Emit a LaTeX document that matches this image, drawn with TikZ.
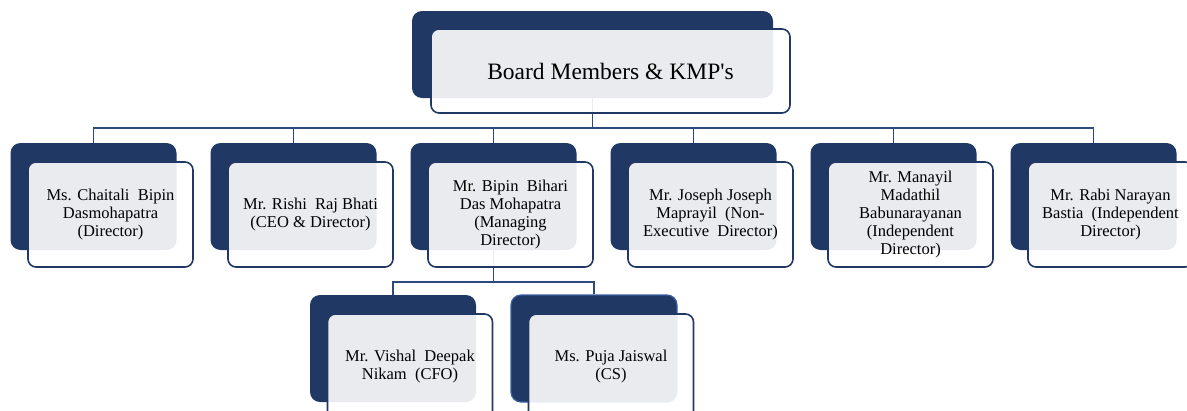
\documentclass[tikz,border=0pt]{standalone}
\usepackage{fontspec}
\setmainfont{Liberation Serif}[Ligatures=TeXOff]
\usetikzlibrary{backgrounds}
\definecolor{navy}{HTML}{203864}
\definecolor{linkblue}{HTML}{2C4A7E}
\definecolor{selblue}{HTML}{3A5EA0}

\begin{document}
\begin{tikzpicture}[x=1pt, y=-1pt,
		back/.style={fill=navy, rounded corners=10pt, minimum width=166pt, minimum height=107pt, inner sep=0pt},
		front/.style={draw=navy, line width=1.6pt, fill=white, fill opacity=.9, text opacity=1, rounded corners=8pt,
			minimum width=165pt, minimum height=105pt, inner sep=0pt, align=center, font=\fontsize{16.5}{17.8}\selectfont},
		link/.style={draw=linkblue, line width=1.6pt}]
				\useasboundingbox (0,0) rectangle (1187,410);
				\clip (0,0) rectangle (1187,410);
				% top box
				\node[back, minimum width=361pt, minimum height=87pt] (boardbk) at (592.5,54.5) {};
				\node[front, minimum width=359pt, minimum height=84pt, font=\fontsize{23.5}{26}\selectfont] (board) at ([shift={(18,16.5)}] boardbk) {Board Members \& KMP's};
				% board members
				\foreach \x/\name/\txt in {93.5/chaitali/{Ms. Chaitali\ \ Bipin\\Dasmohapatra\\(Director)},
						293.5/rishi/{Mr. Rishi\ \ Raj Bhati\\(CEO \& Director)},
						493.5/bipin/{Mr. Bipin\ \ Bihari\\Das Mohapatra\\(Managing\\Director)},
						693.5/joseph/{Mr. Joseph Joseph\\Maprayil\ \ (Non-\\Executive\ \ Director)},
						893.5/manayil/{Mr. Manayil\\Madathil\\Babunarayanan\\(Independent\\Director)},
						1093.5/rabi/{Mr. Rabi Narayan\\Bastia\ \ (Independent\\Director)}} {
					\node[back] (\name bk) at (\x,196.5) {};
					\node[front] (\name) at ([shift={(17,18)}] \name bk) {\txt};
				}
				% KMP's
				\node[back] (vishalbk) at (393,348.5) {};
				\node[front] (vishal) at ([shift={(17,18)}] vishalbk) {Mr. Vishal\ \ Deepak\\Nikam\ \ (CFO)};
				\node[back, draw=selblue, line width=1.2pt] (pujabk) at (594,348.5) {};
				\node[front] (puja) at ([shift={(17,18)}] pujabk) {Ms. Puja Jaiswal\\(CS)};
				\begin{scope}[on background layer]
					\foreach \name in {chaitali,rishi,bipin,joseph,manayil,rabi}
						\draw[link] (boardbk.south) -- ++(0,30) -| (\name bk.north);
					\foreach \name in {vishal,puja}
						\draw[link] (bipinbk.south) -- ++(0,32) -| (\name bk.north);
				\end{scope}
			\end{tikzpicture}
\end{document}
